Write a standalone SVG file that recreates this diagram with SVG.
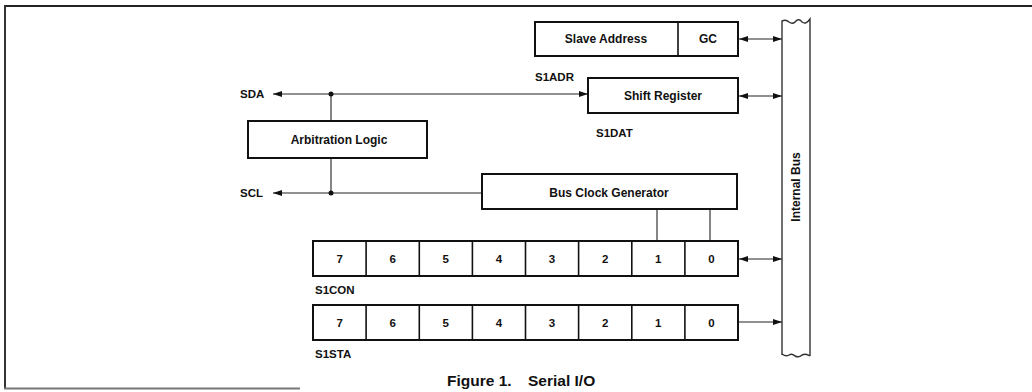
<svg xmlns="http://www.w3.org/2000/svg" width="1032" height="392" viewBox="0 0 1032 392">
<defs>
<marker id="ah" viewBox="0 0 9 6" refX="9" refY="3" markerWidth="9" markerHeight="6" markerUnits="userSpaceOnUse" orient="auto-start-reverse">
<path d="M0,0 L9,3 L0,6 z" fill="#111"/>
</marker>
<style>
.box{fill:#fff;stroke:#111;stroke-width:2}
.ln{fill:none;stroke:#222;stroke-width:1.1}
.t{font-family:"Liberation Sans",Arial,sans-serif;font-weight:bold;font-size:11.5px;fill:#111}
.b{font-size:12px}
.c{text-anchor:middle}
</style>
</defs>
<rect width="1032" height="392" fill="#fff"/>
<g id="frame">
<line x1="4" y1="6" x2="1032" y2="6" stroke="#222" stroke-width="2"/>
<line x1="5" y1="5" x2="5" y2="389" stroke="#333" stroke-width="2"/>
<line x1="4" y1="388.5" x2="300" y2="388.5" stroke="#777" stroke-width="2"/>
</g>
<g id="connectors">
<line class="ln" x1="331" y1="94" x2="273" y2="94" marker-end="url(#ah)"/>
<line class="ln" x1="331" y1="94" x2="588" y2="94" marker-end="url(#ah)"/>
<line class="ln" x1="482" y1="193" x2="273" y2="193" marker-end="url(#ah)"/>
<line class="ln" x1="331" y1="94" x2="331" y2="121"/>
<line class="ln" x1="331" y1="158" x2="331" y2="193"/>
<circle cx="331" cy="94" r="2.5" fill="#111"/>
<circle cx="331" cy="193" r="2.5" fill="#111"/>
<line class="ln" x1="657" y1="209" x2="657" y2="241"/>
<line class="ln" x1="710" y1="209" x2="710" y2="241"/>
<line class="ln" x1="739" y1="39" x2="782" y2="39" marker-start="url(#ah)" marker-end="url(#ah)"/>
<line class="ln" x1="739" y1="96" x2="782" y2="96" marker-start="url(#ah)" marker-end="url(#ah)"/>
<line class="ln" x1="739" y1="259" x2="782" y2="259" marker-start="url(#ah)" marker-end="url(#ah)"/>
<line class="ln" x1="739" y1="322" x2="782" y2="322" marker-end="url(#ah)"/>
</g>
<g id="slave-address">
<rect class="box" x="535" y="22" width="203" height="34"/>
<line x1="678" y1="22" x2="678" y2="56" stroke="#111" stroke-width="1.6"/>
<text class="t b c" x="606" y="43">Slave Address</text>
<text class="t b c" x="708" y="43">GC</text>
<text class="t" x="535" y="81">S1ADR</text>
</g>
<g id="shift-register">
<rect class="box" x="588" y="78" width="150" height="35"/>
<text class="t b c" x="663" y="100">Shift Register</text>
<text class="t" x="596" y="137">S1DAT</text>
</g>
<g id="arbitration-logic">
<rect class="box" x="248" y="121" width="179" height="37"/>
<text class="t b c" x="339" y="144">Arbitration Logic</text>
</g>
<g id="sda"><text class="t" x="240" y="98">SDA</text></g>
<g id="scl"><text class="t" x="240" y="197">SCL</text></g>
<g id="bus-clock-generator">
<rect class="box" x="482" y="174" width="255" height="35"/>
<text class="t b c" x="609" y="197">Bus Clock Generator</text>
</g>
<g id="s1con">
<rect class="box" x="313" y="241" width="425" height="35"/>
<g stroke="#111" stroke-width="1.6">
<line x1="366.1" y1="241" x2="366.1" y2="276"/><line x1="419.3" y1="241" x2="419.3" y2="276"/>
<line x1="472.4" y1="241" x2="472.4" y2="276"/><line x1="525.5" y1="241" x2="525.5" y2="276"/>
<line x1="578.6" y1="241" x2="578.6" y2="276"/><line x1="631.8" y1="241" x2="631.8" y2="276"/>
<line x1="684.9" y1="241" x2="684.9" y2="276"/>
</g>
<g class="t c">
<text x="339.6" y="263">7</text><text x="392.7" y="263">6</text><text x="445.8" y="263">5</text><text x="499" y="263">4</text>
<text x="552" y="263">3</text><text x="605.2" y="263">2</text><text x="658.3" y="263">1</text><text x="711.5" y="263">0</text>
</g>
<text class="t" x="315" y="294">S1CON</text>
</g>
<g id="s1sta">
<rect class="box" x="313" y="305" width="425" height="35"/>
<g stroke="#111" stroke-width="1.6">
<line x1="366.1" y1="305" x2="366.1" y2="340"/><line x1="419.3" y1="305" x2="419.3" y2="340"/>
<line x1="472.4" y1="305" x2="472.4" y2="340"/><line x1="525.5" y1="305" x2="525.5" y2="340"/>
<line x1="578.6" y1="305" x2="578.6" y2="340"/><line x1="631.8" y1="305" x2="631.8" y2="340"/>
<line x1="684.9" y1="305" x2="684.9" y2="340"/>
</g>
<g class="t c">
<text x="339.6" y="327">7</text><text x="392.7" y="327">6</text><text x="445.8" y="327">5</text><text x="499" y="327">4</text>
<text x="552" y="327">3</text><text x="605.2" y="327">2</text><text x="658.3" y="327">1</text><text x="711.5" y="327">0</text>
</g>
<text class="t" x="315" y="358">S1STA</text>
</g>
<g id="internal-bus">
<path d="M782,355 L782,21 Q786,19 789,22 Q793,25 796,21 Q799,18 802,22 Q806,25 810,19 L810,356" fill="none" stroke="#333" stroke-width="1.4"/>
<path d="M782,354 Q786,357 789,355 Q792,353 795,356 Q799,358 802,355 Q806,353 810,356" fill="none" stroke="#333" stroke-width="1.4"/>
<text class="t b c" transform="translate(800,187) rotate(-90)" x="0" y="0">Internal Bus</text>
</g>
<g id="caption">
<text font-family="'Liberation Sans',Arial,sans-serif" font-weight="bold" font-size="15.5" fill="#111" y="386"><tspan x="447">Figure 1.</tspan><tspan x="528">Serial I/O</tspan></text>
</g>
</svg>
